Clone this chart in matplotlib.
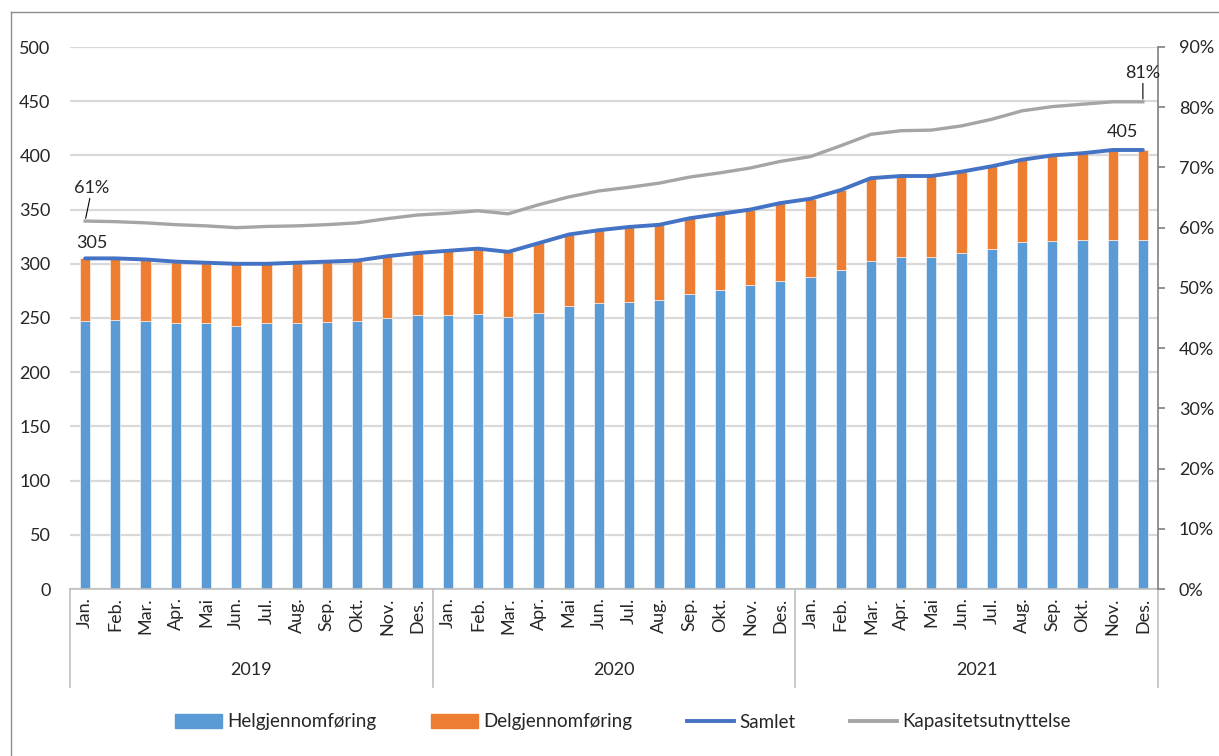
import matplotlib
matplotlib.use('Agg')
import matplotlib.pyplot as plt
import matplotlib.transforms as mtransforms
from matplotlib.lines import Line2D
from matplotlib.patches import Patch
from matplotlib.ticker import PercentFormatter
import numpy as np

plt.rcParams['font.family'] = ['Lato', 'DejaVu Sans']

# Data (thousands, monthly 2019-2021)
months = ['Jan.', 'Feb.', 'Mar.', 'Apr.', 'Mai', 'Jun.', 'Jul.', 'Aug.', 'Sep.', 'Okt.', 'Nov.', 'Des.']
years = ['2019', '2020', '2021']

helg = [247, 248, 247, 245, 245, 243, 245, 245, 246, 247, 250, 253,
        253, 254, 251, 255, 261, 264, 265, 267, 272, 276, 280, 284,
        288, 294, 303, 306, 306, 310, 314, 320, 321, 322, 322, 322]
delg = [58, 57, 57, 57, 56, 57, 55, 56, 56, 56, 57, 57,
        59, 60, 60, 64, 66, 67, 69, 69, 70, 70, 70, 72,
        72, 74, 76, 75, 75, 75, 76, 76, 79, 80, 83, 83]
kapasitet = [61.1, 61.0, 60.8, 60.5, 60.3, 60.0, 60.2, 60.3, 60.5, 60.8, 61.5, 62.1,
             62.4, 62.8, 62.3, 63.8, 65.1, 66.1, 66.7, 67.4, 68.4, 69.1, 69.9, 71.0,
             71.8, 73.6, 75.5, 76.1, 76.2, 76.9, 78.0, 79.4, 80.1, 80.5, 80.9, 80.9]

c_helg = '#5B9BD5'
c_delg = '#ED7D31'
c_samlet = '#4472C4'
c_kap = '#A5A5A5'
txt = '#262626'

helg = np.array(helg)
delg = np.array(delg)
samlet = helg + delg
kap = np.array(kapasitet) / 100
x = np.arange(len(helg))

fig = plt.figure(figsize=(12.19, 7.56), dpi=100)
ax = fig.add_axes([70 / 1219, 1 - 589 / 756, (1158 - 70) / 1219, (589 - 47) / 756])
ax2 = ax.twinx()

# bars
ax.bar(x, helg, width=0.34, color=c_helg, edgecolor='white', linewidth=0.4, zorder=2)
ax.bar(x, delg, bottom=helg, width=0.34, color=c_delg, edgecolor='white', linewidth=0.4, zorder=2)
ax.plot(x, samlet, color=c_samlet, lw=2.8, zorder=3, solid_capstyle='round')

ax.set_ylim(0, 500)
ax.set_xlim(-0.5, len(x) - 0.5)
ax.set_yticks(range(0, 501, 50))
ax.yaxis.grid(True, color='#D9D9D9', lw=1.6)
ax.set_axisbelow(True)
for s in ['top', 'left', 'right']:
    ax.spines[s].set_visible(False)
ax.spines['bottom'].set_color('#BFBFBF')
ax.spines['bottom'].set_linewidth(1.2)
ax.tick_params(axis='y', length=0, pad=14, labelsize=13, labelcolor=txt)
ax.set_xticks(x)
ax.set_xticklabels(months * 3, rotation=90, fontsize=13, color=txt)
ax.tick_params(axis='x', length=0, pad=6)

# category separators and year labels
trans = mtransforms.blended_transform_factory(ax.transData, ax.transAxes)
for b in [-0.5, 11.5, 23.5, 35.5]:
    ax.add_line(Line2D([b, b], [0, -0.18], transform=trans, color='#BFBFBF', lw=1.2, clip_on=False))
for i, yr in enumerate(years):
    ax.text(i * 12 + 5.5, -0.15, yr, transform=trans, ha='center', va='center', fontsize=13, color=txt)

# capacity line on right axis
ax2.plot(x, kap, color=c_kap, lw=2.4, zorder=3)
ax2.set_ylim(0, 0.9)
ax2.set_yticks(np.arange(0, 0.91, 0.1))
ax2.yaxis.set_major_formatter(PercentFormatter(1.0, decimals=0))
for s in ['top', 'left', 'bottom']:
    ax2.spines[s].set_visible(False)
ax2.spines['right'].set_color('#808080')
ax2.spines['right'].set_linewidth(1.2)
ax2.tick_params(axis='y', length=5, width=1.2, color='#808080', pad=10, labelsize=13, labelcolor=txt)

# data labels
ax2.annotate(f'{kapasitet[0]:.0f}%', xy=(x[0], kap[0]), xytext=(5, 24), textcoords='offset points',
             ha='center', va='center', fontsize=13, color=txt,
             arrowprops=dict(arrowstyle='-', color='black', lw=0.8, shrinkA=0, shrinkB=2))
ax.annotate(f'{samlet[0]}', xy=(x[0], samlet[0]), xytext=(5, 11), textcoords='offset points',
            ha='center', va='center', fontsize=13, color=txt)
ax2.annotate(f'{kapasitet[-1]:.0f}%', xy=(x[-1], kap[-1]), xytext=(0, 21), textcoords='offset points',
             ha='center', va='center', fontsize=13, color=txt,
             arrowprops=dict(arrowstyle='-', color='black', lw=0.8, shrinkA=0, shrinkB=2))
ax.annotate(f'{samlet[-1]}', xy=(x[-1], samlet[-1]), xytext=(-15, 13), textcoords='offset points',
            ha='center', va='center', fontsize=13, color=txt)

# legend
handles = [Patch(color=c_helg), Patch(color=c_delg),
           Line2D([], [], color=c_samlet, lw=2.8), Line2D([], [], color=c_kap, lw=2.8)]
labels = ['Helgjennomføring', 'Delgjennomføring', 'Samlet', 'Kapasitetsutnyttelse']
fig.legend(handles, labels, loc='center', bbox_to_anchor=(0.511, 1 - 722 / 756), ncol=4,
           frameon=False, fontsize=13.5, handlelength=2.5, handleheight=0.7,
           columnspacing=2.9, handletextpad=0.3, labelcolor=txt)

# chart border
fig.add_artist(Line2D([11 / 1219, 11 / 1219], [0, 1 - 12 / 756], color='#8C8C8C', lw=1))
fig.add_artist(Line2D([11 / 1219, 1], [1 - 12 / 756, 1 - 12 / 756], color='#8C8C8C', lw=1))

fig.savefig('out.png', dpi=100)
